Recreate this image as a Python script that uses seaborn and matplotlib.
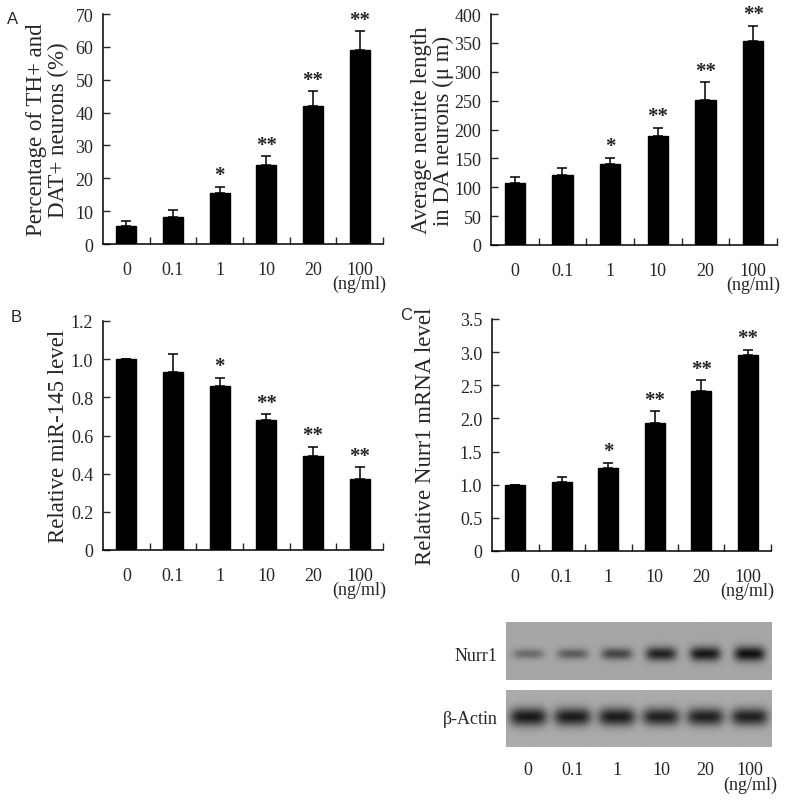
import numpy as np
import pandas as pd
import matplotlib
matplotlib.use("Agg")
import matplotlib.pyplot as plt
import seaborn as sns

# doses (ng/ml) shared by all panels
doses = ["0", "0.1", "1", "10", "20", "100"]
sig = ["", "", "*", "**", "**", "**"]

# panel A left: % TH+ and DAT+ neurons
th_pct = [5.6, 8.3, 15.4, 24.1, 42.1, 59.0]
th_err = [1.3, 2.0, 2.0, 2.6, 4.4, 5.7]

# panel A right: neurite length (um)
neurite = [107, 121, 141, 188, 251, 354]
neurite_err = [11, 12, 10, 15, 31, 26]

# panel B: relative miR-145
mir145 = [1.0, 0.935, 0.86, 0.68, 0.495, 0.372]
mir145_err = [0.0, 0.09, 0.042, 0.033, 0.047, 0.063]

# panel C: relative Nurr1 mRNA
nurr1 = [1.0, 1.04, 1.245, 1.925, 2.415, 2.955]
nurr1_err = [0.0, 0.075, 0.09, 0.18, 0.16, 0.08]

# western blot band densities (0 = none, 1 = saturated)
nurr1_band = [0.38, 0.47, 0.62, 0.85, 0.92, 0.97]
actin_band = [0.95, 0.93, 0.93, 0.9, 0.9, 0.9]

sns.set_theme(style="ticks")
plt.rcParams["font.family"] = ["Liberation Serif", "DejaVu Serif"]

W, H = 788, 803
fig = plt.figure(figsize=(W / 100, H / 100), dpi=100)


def px_axes(l, t, r, b):
    return fig.add_axes([l / W, 1 - b / H, (r - l) / W, (b - t) / H])


def bar_panel(ax, vals, errs, ylim, yticks, yfmt, ylabel, lab_x):
    df = pd.DataFrame({"dose": doses, "val": vals})
    sns.barplot(data=df, x="dose", y="val", order=doses, color="black",
                width=0.43, saturation=1, ax=ax, errorbar=None)
    for p in ax.patches:
        p.set_edgecolor("black")
    x = np.arange(len(doses))
    ax.errorbar(x, vals, yerr=[np.zeros(len(errs)), errs], fmt="none",
                ecolor="black", elinewidth=1.1, capsize=3.5, capthick=1.1)
    for xi, v, e, s in zip(x, vals, errs, sig):
        if s:
            ax.annotate(s, (xi, v + e), xytext=(0, 1), textcoords="offset points",
                        ha="center", va="bottom", fontsize=15, fontweight="bold")
    ax.set_xlim(-0.5, 5.5)
    ax.set_ylim(*ylim)
    ax.set_yticks(yticks)
    ax.set_yticklabels([yfmt(t) for t in yticks])
    labels = list(doses)
    labels[-1] = "100\n(ng/ml)"
    ax.set_xticks(x)
    ax.set_xticklabels(labels, linespacing=0.8)
    ax.set_xticks(np.arange(0.5, 6, 1), minor=True)
    ax.tick_params(axis="x", which="major", length=0, pad=12, labelsize=13)
    ax.tick_params(axis="x", which="minor", length=5, width=1, direction="in")
    ax.tick_params(axis="y", length=5, width=1, direction="in", pad=7, labelsize=13)
    ax.set_xlabel("")
    ax.set_ylabel(ylabel, fontsize=16.5, linespacing=1.05)
    ax.yaxis.set_label_coords(lab_x, 0.5)
    sns.despine(ax=ax)
    for sp in ("left", "bottom"):
        ax.spines[sp].set_linewidth(1.1)
        ax.spines[sp].set_color("black")


def fmt_int(t):
    return f"{t:g}"


def fmt_1(t):
    return "0" if t == 0 else f"{t:.1f}"


axA1 = px_axes(103, 15, 383, 245)
bar_panel(axA1, th_pct, th_err, (0, 70), np.arange(0, 71, 10), fmt_int,
          "Percentage of TH+ and\nDAT+ neurons (%)", -0.12)

axA2 = px_axes(491, 15, 777, 246)
bar_panel(axA2, neurite, neurite_err, (0, 400), np.arange(0, 401, 50), fmt_int,
          "Average neurite length\nin DA neurons (\u03bc m)", -0.13)

axB = px_axes(103, 322, 383, 551)
bar_panel(axB, mir145, mir145_err, (0, 1.2), np.round(np.arange(0, 1.21, 0.2), 1), fmt_1,
          "Relative miR-145 level", -0.12)

axC = px_axes(492, 320, 771, 552)
bar_panel(axC, nurr1, nurr1_err, (0, 3.5), np.round(np.arange(0, 3.51, 0.5), 1), fmt_1,
          "Relative Nurr1 mRNA level", -0.2)

# panel letters
for txt, (x, y) in {"A": (13, 20), "B": (16, 318), "C": (406, 316)}.items():
    fig.text(x / W, 1 - y / H, txt, ha="center", va="center", fontsize=12,
             family=["Liberation Sans", "DejaVu Sans"])


def blot_image(density, y0, base_h, half_w, bg):
    xs = np.linspace(-0.5, 5.5, 480)
    ys = np.linspace(0, 1, 120)
    X, Y = np.meshgrid(xs, ys)
    img = np.full(X.shape, bg)
    for i, d in enumerate(density):
        wy = base_h * (0.5 + 0.6 * d)
        prof = np.exp(-np.abs((X - i) / half_w) ** 4) * np.exp(-((Y - y0) / wy) ** 2)
        img -= d * 0.6 * prof
    return np.clip(img, 0, 1)


axN = px_axes(506, 623, 772, 681)
axN.imshow(blot_image(nurr1_band, 0.45, 0.12, 0.35, 0.65), cmap="gray", vmin=0, vmax=1,
           extent=(-0.5, 5.5, 0, 1), aspect="auto", origin="lower", interpolation="bilinear")
axN.set_xticks([])
axN.set_yticks([0.45])
axN.set_yticklabels(["Nurr1"])

axAc = px_axes(506, 691, 772, 748)
axAc.imshow(blot_image(actin_band, 0.53, 0.15, 0.42, 0.67), cmap="gray", vmin=0, vmax=1,
            extent=(-0.5, 5.5, 0, 1), aspect="auto", origin="lower", interpolation="bilinear")
axAc.set_yticks([0.53])
axAc.set_yticklabels(["\u03b2-Actin"])
blot_labels = list(doses)
blot_labels[-1] = "100\n(ng/ml)"
axAc.set_xticks(np.arange(len(doses)))
axAc.set_xticklabels(blot_labels, linespacing=0.8)
axAc.tick_params(axis="x", length=0, pad=10, labelsize=13)

for ax in (axN, axAc):
    ax.tick_params(axis="y", length=0, pad=6, labelsize=13)
    for sp in ax.spines.values():
        sp.set_visible(False)

fig.savefig("out.png", dpi=100)
